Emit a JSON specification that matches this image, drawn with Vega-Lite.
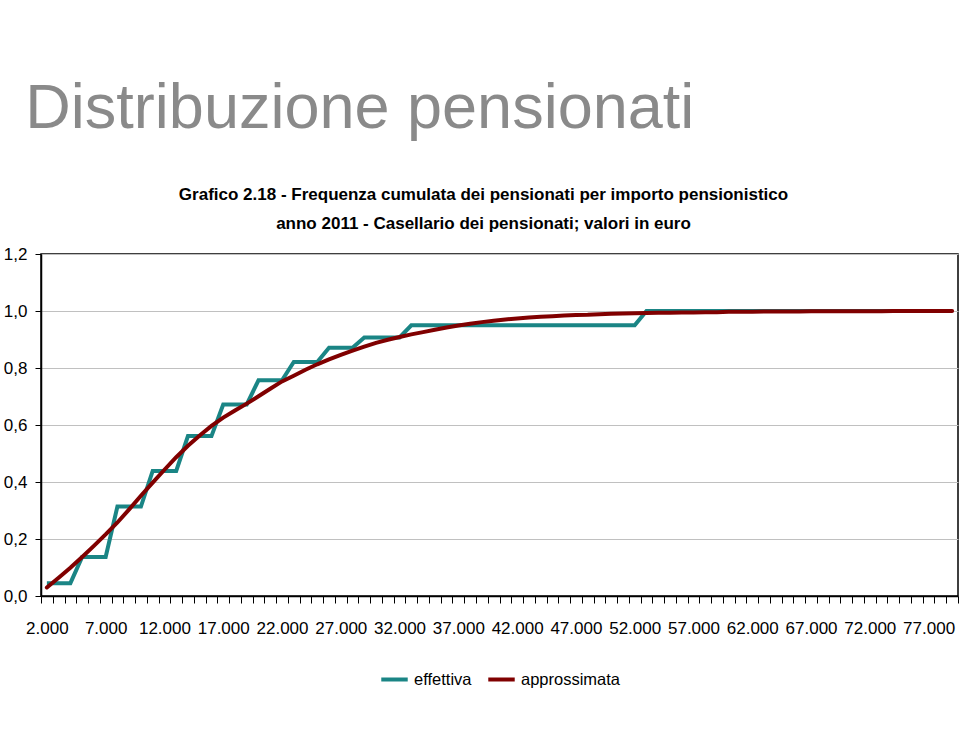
{
  "$schema": "https://vega.github.io/schema/vega-lite/v6.json",
  "width": 917,
  "height": 342,
  "padding": {"left": 3, "top": 78, "right": 3, "bottom": 30},
  "background": "white",
  "title": {
    "text": "Distribuzione pensionati",
    "anchor": "start",
    "frame": "bounds",
    "dx": 22,
    "font": "Liberation Sans",
    "fontSize": 63,
    "fontWeight": "normal",
    "color": "#8a8a8a",
    "offset": 44
  },
  "data": {
    "values": [
      {"x": 2000, "effettiva": 0.045, "approssimata": 0.030},
      {"x": 3000, "effettiva": 0.045, "approssimata": 0.064},
      {"x": 4000, "effettiva": 0.045, "approssimata": 0.099},
      {"x": 5000, "effettiva": 0.137, "approssimata": 0.137},
      {"x": 6000, "effettiva": 0.137, "approssimata": 0.176},
      {"x": 7000, "effettiva": 0.137, "approssimata": 0.216},
      {"x": 8000, "effettiva": 0.314, "approssimata": 0.258},
      {"x": 9000, "effettiva": 0.314, "approssimata": 0.304},
      {"x": 10000, "effettiva": 0.314, "approssimata": 0.352},
      {"x": 11000, "effettiva": 0.439, "approssimata": 0.398},
      {"x": 12000, "effettiva": 0.439, "approssimata": 0.443},
      {"x": 13000, "effettiva": 0.439, "approssimata": 0.487},
      {"x": 14000, "effettiva": 0.561, "approssimata": 0.527},
      {"x": 15000, "effettiva": 0.561, "approssimata": 0.563},
      {"x": 16000, "effettiva": 0.561, "approssimata": 0.597},
      {"x": 17000, "effettiva": 0.672, "approssimata": 0.626},
      {"x": 18000, "effettiva": 0.672, "approssimata": 0.651},
      {"x": 19000, "effettiva": 0.672, "approssimata": 0.675},
      {"x": 20000, "effettiva": 0.757, "approssimata": 0.701},
      {"x": 21000, "effettiva": 0.757, "approssimata": 0.727},
      {"x": 22000, "effettiva": 0.757, "approssimata": 0.753},
      {"x": 23000, "effettiva": 0.821, "approssimata": 0.773},
      {"x": 24000, "effettiva": 0.821, "approssimata": 0.794},
      {"x": 25000, "effettiva": 0.821, "approssimata": 0.813},
      {"x": 26000, "effettiva": 0.871, "approssimata": 0.830},
      {"x": 27000, "effettiva": 0.871, "approssimata": 0.846},
      {"x": 28000, "effettiva": 0.871, "approssimata": 0.861},
      {"x": 29000, "effettiva": 0.907, "approssimata": 0.875},
      {"x": 30000, "effettiva": 0.907, "approssimata": 0.888},
      {"x": 31000, "effettiva": 0.907, "approssimata": 0.899},
      {"x": 32000, "effettiva": 0.907, "approssimata": 0.909},
      {"x": 33000, "effettiva": 0.950, "approssimata": 0.918},
      {"x": 34000, "effettiva": 0.950, "approssimata": 0.926},
      {"x": 35000, "effettiva": 0.950, "approssimata": 0.934},
      {"x": 36000, "effettiva": 0.950, "approssimata": 0.942},
      {"x": 37000, "effettiva": 0.950, "approssimata": 0.949},
      {"x": 38000, "effettiva": 0.950, "approssimata": 0.955},
      {"x": 39000, "effettiva": 0.950, "approssimata": 0.961},
      {"x": 40000, "effettiva": 0.950, "approssimata": 0.966},
      {"x": 41000, "effettiva": 0.950, "approssimata": 0.970},
      {"x": 42000, "effettiva": 0.950, "approssimata": 0.974},
      {"x": 43000, "effettiva": 0.950, "approssimata": 0.977},
      {"x": 44000, "effettiva": 0.950, "approssimata": 0.980},
      {"x": 45000, "effettiva": 0.950, "approssimata": 0.982},
      {"x": 46000, "effettiva": 0.950, "approssimata": 0.984},
      {"x": 47000, "effettiva": 0.950, "approssimata": 0.986},
      {"x": 48000, "effettiva": 0.950, "approssimata": 0.987},
      {"x": 49000, "effettiva": 0.950, "approssimata": 0.989},
      {"x": 50000, "effettiva": 0.950, "approssimata": 0.990},
      {"x": 51000, "effettiva": 0.950, "approssimata": 0.991},
      {"x": 52000, "effettiva": 0.950, "approssimata": 0.992},
      {"x": 53000, "effettiva": 1.0, "approssimata": 0.993},
      {"x": 54000, "effettiva": 1.0, "approssimata": 0.994},
      {"x": 55000, "effettiva": 1.0, "approssimata": 0.994},
      {"x": 56000, "effettiva": 1.0, "approssimata": 0.995},
      {"x": 57000, "effettiva": 1.0, "approssimata": 0.995},
      {"x": 58000, "effettiva": 1.0, "approssimata": 0.996},
      {"x": 59000, "effettiva": 1.0, "approssimata": 0.996},
      {"x": 60000, "effettiva": 1.0, "approssimata": 0.997},
      {"x": 61000, "effettiva": 1.0, "approssimata": 0.997},
      {"x": 62000, "effettiva": 1.0, "approssimata": 0.997},
      {"x": 63000, "effettiva": 1.0, "approssimata": 0.998},
      {"x": 64000, "effettiva": 1.0, "approssimata": 0.998},
      {"x": 65000, "effettiva": 1.0, "approssimata": 0.998},
      {"x": 66000, "effettiva": 1.0, "approssimata": 0.998},
      {"x": 67000, "effettiva": 1.0, "approssimata": 0.999},
      {"x": 68000, "effettiva": 1.0, "approssimata": 0.999},
      {"x": 69000, "effettiva": 1.0, "approssimata": 0.999},
      {"x": 70000, "effettiva": 1.0, "approssimata": 0.999},
      {"x": 71000, "effettiva": 1.0, "approssimata": 0.999},
      {"x": 72000, "effettiva": 1.0, "approssimata": 0.999},
      {"x": 73000, "effettiva": 1.0, "approssimata": 0.999},
      {"x": 74000, "effettiva": 1.0, "approssimata": 1.0},
      {"x": 75000, "effettiva": 1.0, "approssimata": 1.0},
      {"x": 76000, "effettiva": 1.0, "approssimata": 1.0},
      {"x": 77000, "effettiva": 1.0, "approssimata": 1.0},
      {"x": 78000, "effettiva": 1.0, "approssimata": 1.0},
      {"x": 79000, "effettiva": 1.0, "approssimata": 1.0}
    ]
  },
  "transform": [{"fold": ["effettiva", "approssimata"], "as": ["serie", "valore"]}],
  "encoding": {
    "y": {
      "field": "valore",
      "type": "quantitative",
      "scale": {"domain": [0, 1.2], "nice": false},
      "axis": {
        "title": null,
        "values": [0, 0.2, 0.4, 0.6, 0.8, 1.0, 1.2],
        "labelExpr": "replace(format(datum.value, '.1f'), '.', ',')",
        "labelFont": "Liberation Sans",
        "labelFontSize": 17,
        "labelColor": "#000000",
        "labelPadding": 8,
        "tickSize": 6,
        "tickColor": "#000000",
        "domainColor": "#000000",
        "domainWidth": 1.5,
        "grid": true,
        "gridColor": "#c0c0c0",
        "gridWidth": 1
      }
    },
    "color": {
      "field": "serie",
      "type": "nominal",
      "scale": {"domain": ["effettiva", "approssimata"], "range": ["#1a8585", "#800000"]},
      "legend": {
        "title": null,
        "orient": "bottom",
        "direction": "horizontal",
        "symbolType": "stroke",
        "symbolStrokeWidth": 4,
        "symbolSize": 700,
        "labelFont": "Liberation Sans",
        "labelFontSize": 16.5,
        "labelColor": "#000000",
        "columnPadding": 8,
        "offset": 28
      }
    }
  },
  "layer": [
    {
      "transform": [{"filter": "datum.serie == 'effettiva'"}],
      "mark": {"type": "line", "strokeWidth": 4, "strokeJoin": "miter", "clip": false},
      "encoding": {
        "x": {
          "field": "x",
          "type": "quantitative",
          "scale": {"domain": [1500, 79500], "nice": false, "zero": false},
          "axis": {
            "title": null,
            "orient": "bottom",
            "values": [1500, 2500, 3500, 4500, 5500, 6500, 7500, 8500, 9500, 10500, 11500, 12500, 13500, 14500, 15500, 16500, 17500, 18500, 19500, 20500, 21500, 22500, 23500, 24500, 25500, 26500, 27500, 28500, 29500, 30500, 31500, 32500, 33500, 34500, 35500, 36500, 37500, 38500, 39500, 40500, 41500, 42500, 43500, 44500, 45500, 46500, 47500, 48500, 49500, 50500, 51500, 52500, 53500, 54500, 55500, 56500, 57500, 58500, 59500, 60500, 61500, 62500, 63500, 64500, 65500, 66500, 67500, 68500, 69500, 70500, 71500, 72500, 73500, 74500, 75500, 76500, 77500, 78500, 79500],
            "labelExpr": "(datum.value - 1500) % 5000 == 0 ? replace(format(datum.value + 500, ','), ',', '.') : ''",
            "labelOffset": 5.88,
            "labelOverlap": false,
            "labelFlush": false,
            "labelBound": false,
            "labelFont": "Liberation Sans",
            "labelFontSize": 17,
            "labelColor": "#000000",
            "labelPadding": 17,
            "tickSize": 7,
            "tickColor": "#000000",
            "tickWidth": 1,
            "domainColor": "#000000",
            "domainWidth": 1.5,
            "grid": false
          }
        }
      }
    },
    {
      "transform": [{"filter": "datum.serie == 'approssimata'"}],
      "mark": {"type": "line", "strokeWidth": 4, "strokeCap": "round", "clip": false},
      "encoding": {
        "x": {
          "field": "x",
          "type": "quantitative",
          "scale": {"domain": [1500, 79500], "nice": false, "zero": false},
          "axis": {
            "orient": "top",
            "title": ["Grafico 2.18 - Frequenza cumulata dei pensionati per importo pensionistico", "anno 2011 - Casellario dei pensionati; valori in euro"],
            "titleFont": "Liberation Sans",
            "titleFontSize": 17,
            "titleFontWeight": "bold",
            "titleColor": "#000000",
            "titleLineHeight": 29,
            "titlePadding": 22,
            "titleX": 442,
            "labels": false,
            "ticks": false,
            "domain": false,
            "grid": false
          }
        }
      }
    }
  ],
  "resolve": {"axis": {"x": "independent"}},
  "config": {
    "view": {"stroke": "#000000", "strokeWidth": 1.5},
    "legend": {"layout": {"bottom": {"anchor": "middle"}}}
  }
}
